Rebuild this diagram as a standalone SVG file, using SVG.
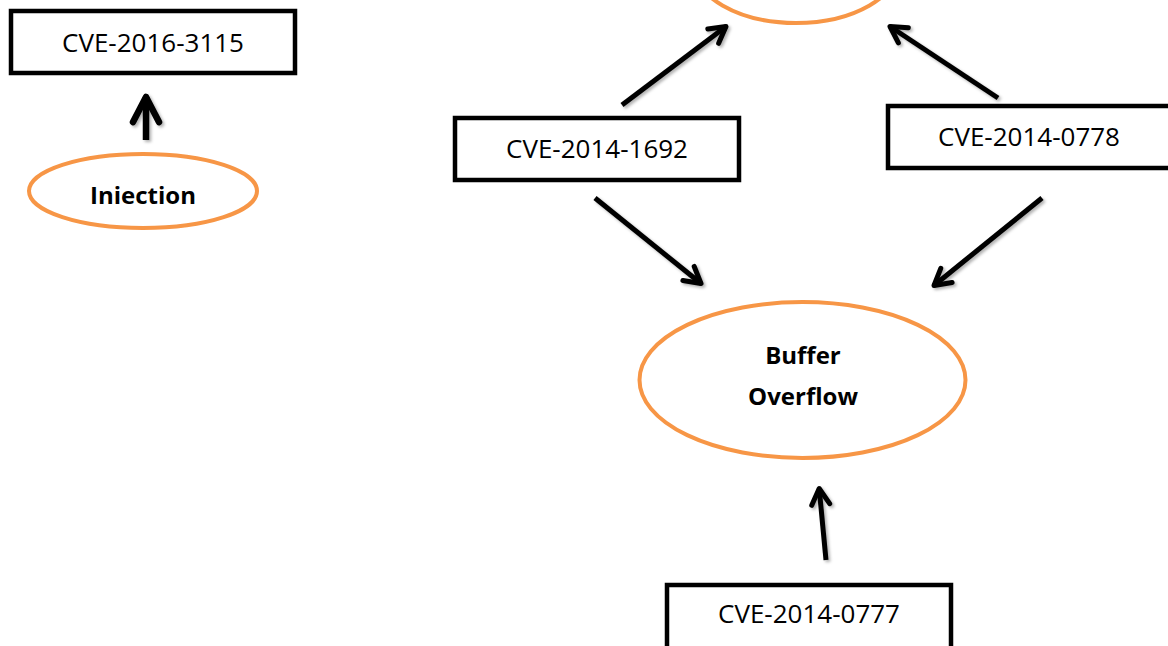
<svg xmlns="http://www.w3.org/2000/svg" width="1168" height="646" viewBox="0 0 1168 646">
  <style>
    .box { fill: #ffffff; stroke: #000000; stroke-width: 4.5; }
    .oval { fill: #ffffff; stroke: #F79646; stroke-width: 4; }
    .lbl { font-family: "Open Sans", "Liberation Sans", sans-serif; font-size: 26px; fill: #000000; text-anchor: middle; }
    .olbl { font-family: "Open Sans", "Liberation Sans", sans-serif; font-size: 24px; font-weight: bold; fill: #000000; text-anchor: middle; }
    .edge { fill: none; stroke: #000000; stroke-width: 5; stroke-linecap: butt; }
  </style>
  <defs>
    <filter id="shadow" x="-20%" y="-20%" width="140%" height="140%">
      <feDropShadow dx="2" dy="2" stdDeviation="1.5" flood-color="#000000" flood-opacity="0.3"/>
    </filter>
    <marker id="arrow" markerUnits="userSpaceOnUse" markerWidth="40" markerHeight="40" refX="0" refY="0" orient="auto" overflow="visible">
      <path d="M-16,-9 L0,0 L-16,9" fill="none" stroke="#000000" stroke-width="5" stroke-linecap="round" stroke-linejoin="round"/>
    </marker>
    <marker id="arrowBig" markerUnits="userSpaceOnUse" markerWidth="60" markerHeight="60" refX="0" refY="0" orient="auto" overflow="visible">
      <path d="M-25,-13 L0,0 L-25,13" fill="none" stroke="#000000" stroke-width="6.5" stroke-linecap="round" stroke-linejoin="round"/>
    </marker>
  </defs>

  <rect width="1168" height="646" fill="#ffffff"/>

  <g id="connectors" filter="url(#shadow)">
    <path class="edge" d="M146,140 L146,97" style="stroke-width:6.5" marker-end="url(#arrowBig)"/>
    <path class="edge" d="M622,105 L726,26.5" marker-end="url(#arrow)"/>
    <path class="edge" d="M998,98 L890,26.5" marker-end="url(#arrow)"/>
    <path class="edge" d="M595,198 L701,283.5" marker-end="url(#arrow)"/>
    <path class="edge" d="M1042,198 L934,285.5" marker-end="url(#arrow)"/>
    <path class="edge" d="M826,560 L819.2,488.5" marker-end="url(#arrow)"/>
  </g>

  <g id="node-cve-2016-3115">
    <rect class="box" x="11" y="11" width="284" height="62"/>
    <text class="lbl" x="153" y="52">CVE-2016-3115</text>
  </g>

  <g id="node-injection">
    <ellipse class="oval" cx="143" cy="191" rx="114" ry="37"/>
    <text class="olbl" x="143" y="204">Iniection</text>
  </g>

  <g id="node-top-oval">
    <ellipse class="oval" cx="796" cy="-37" rx="104" ry="60"/>
  </g>

  <g id="node-cve-2014-1692">
    <rect class="box" x="455" y="118" width="284" height="62"/>
    <text class="lbl" x="597" y="158">CVE-2014-1692</text>
  </g>

  <g id="node-cve-2014-0778">
    <rect class="box" x="888" y="106" width="290" height="62"/>
    <text class="lbl" x="1029" y="146">CVE-2014-0778</text>
  </g>

  <g id="node-buffer-overflow">
    <ellipse class="oval" cx="802.5" cy="380" rx="163" ry="78"/>
    <text class="olbl" x="803" y="364">Buffer</text>
    <text class="olbl" x="803" y="405">Overflow</text>
  </g>

  <g id="node-cve-2014-0777">
    <rect class="box" x="667" y="585" width="284" height="70"/>
    <text class="lbl" x="809" y="623">CVE-2014-0777</text>
  </g>
</svg>
